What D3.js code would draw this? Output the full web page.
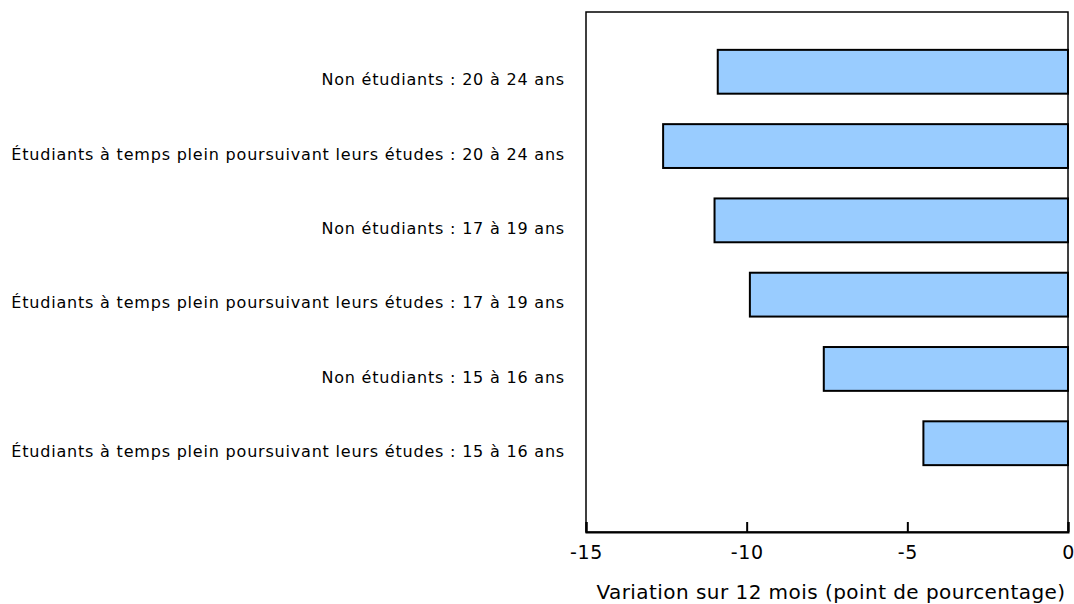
<!DOCTYPE html>
<html>
<head>
<meta charset="utf-8">
<script src="https://cdn.jsdelivr.net/npm/d3@7"></script>
<style>
  body { margin: 0; background: #fff; }
  text { font-family: "DejaVu Sans", Verdana, sans-serif; fill: #000; }
</style>
</head>
<body>
<svg id="chart" width="1074" height="604"></svg>
<script>
// categories top to bottom, values in percentage points
const categories = [
  "Non étudiants : 20 à 24 ans",
  "Étudiants à temps plein poursuivant leurs études : 20 à 24 ans",
  "Non étudiants : 17 à 19 ans",
  "Étudiants à temps plein poursuivant leurs études : 17 à 19 ans",
  "Non étudiants : 15 à 16 ans",
  "Étudiants à temps plein poursuivant leurs études : 15 à 16 ans"
];
const values = [-10.9, -12.6, -11.0, -9.9, -7.6, -4.5];
const xTicks = [-15, -10, -5, 0];
const xTitle = "Variation sur 12 mois (point de pourcentage)";

const frame = { left: 586, right: 1068, top: 12, bottom: 532 };
const svg = d3.select("#chart");

const x = d3.scaleLinear().domain([-15, 0]).range([frame.left, frame.right]);
const y = d3.scaleBand().domain(categories).range([35, 480]).paddingInner(0.41).paddingOuter(0.2);

// bars
svg.append("g")
  .selectAll("rect")
  .data(values)
  .join("rect")
  .attr("x", d => x(d))
  .attr("y", (d, i) => y(categories[i]))
  .attr("width", d => x(0) - x(d))
  .attr("height", y.bandwidth())
  .attr("fill", "#99ccff")
  .attr("stroke", "#000")
  .attr("stroke-width", 2);

// frame
svg.append("rect")
  .attr("x", frame.left).attr("y", frame.top)
  .attr("width", frame.right - frame.left).attr("height", frame.bottom - frame.top)
  .attr("fill", "none").attr("stroke", "#000").attr("stroke-width", 1.5);

// x axis
const xAxis = svg.append("g")
  .attr("transform", `translate(0,${frame.bottom})`)
  .call(d3.axisBottom(x).tickValues(xTicks).tickFormat(d => String(d)).tickSize(-10).tickPadding(14));
xAxis.select(".domain").attr("stroke", "#000").attr("stroke-width", 2);
xAxis.selectAll(".tick line").attr("stroke-width", 2);
xAxis.selectAll(".tick text")
  .attr("font-size", 19)
  .attr("letter-spacing", 0.6)
  .attr("font-family", "DejaVu Sans, Verdana, sans-serif");

// category labels
svg.append("g")
  .selectAll("text")
  .data(categories)
  .join("text")
  .attr("x", 565)
  .attr("y", d => y(d) + y.bandwidth() / 2 + 8)
  .attr("dy", "0.35em")
  .attr("text-anchor", "end")
  .attr("font-size", 16)
  .attr("letter-spacing", 0.8)
  .text(d => d);

// axis title
svg.append("text")
  .attr("x", 831)
  .attr("y", 599)
  .attr("text-anchor", "middle")
  .attr("font-size", 20)
  .attr("letter-spacing", 0.45)
  .text(xTitle);
</script>
</body>
</html>
